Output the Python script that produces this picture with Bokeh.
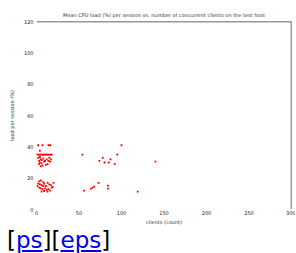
from bokeh.plotting import figure
from bokeh.models import Span, Div, Range1d, FixedTicker
from bokeh.layouts import column
from bokeh.embed import file_html
from bokeh.resources import INLINE

x_ticks = [0, 50, 100, 150, 200, 250, 300]
y_ticks = [0, 20, 40, 60, 80, 100, 120]

# upper cluster
x_upper = [2, 7, 14, 16, 4,
           0, 1.5, 3, 4.5, 6, 7.5, 9, 10.5, 12, 13.5, 15, 16.5, 18,
           2, 4, 5, 3, 6, 8, 9, 4, 6, 10, 12, 14, 16, 13, 7, 3, 11, 15, 17, 5,
           54, 100, 95, 78, 74, 87, 80, 85, 92, 140]
y_upper = [41, 41, 41, 41, 37.5,
           35, 35, 35, 35, 35, 35, 35, 35, 35, 35, 35, 35, 35,
           33, 33.5, 32, 31, 31.5, 32.5, 30.5, 30, 29.5, 31, 32, 31, 30.5, 29, 28, 29, 28.5, 33, 32, 27.5,
           35, 41, 35, 33, 31, 32, 30, 30, 29, 30.5]
# lower cluster
x_lower = [3, 5, 8, 2, 4, 6, 9, 11, 13, 15, 17, 19, 3, 5, 7, 10, 12, 14, 16, 18, 6, 9, 1, 20, 13, 8,
           73, 68, 66, 64, 56, 84, 84, 119]
y_lower = [18, 18.5, 17.5, 16.5, 16, 15.5, 16.5, 15, 17, 16, 15.5, 14.5, 14, 13.5, 13, 13.5, 12.5, 13, 12, 14, 11.5, 11.8, 15, 17, 11.5, 15,
           17, 14.6, 14, 13.3, 12, 15.2, 13.3, 11.4]

p = figure(frame_width=255, frame_height=188, output_backend="svg", toolbar_location=None,
           x_range=Range1d(0, 300), y_range=Range1d(0, 120),
           min_border_left=36, min_border_right=4, min_border_top=21, min_border_bottom=14,
           title="Mean CPU load (%) per session vs. number of concurrent clients on the test host")
p.title.text_font_size = "5px"
p.title.text_font = "DejaVu Sans"
p.title.text_color = "#333333"
p.title.text_font_style = "normal"
p.title.align = "center"
p.title.standoff = 7

p.outline_line_color = None
p.xgrid.grid_line_color = None
p.ygrid.grid_line_color = None
for ax in (p.xaxis, p.yaxis):
    ax.axis_line_color = None
    ax.major_tick_line_color = None
    ax.minor_tick_line_color = None
    ax.major_tick_out = 0
    ax.major_tick_in = 0
    ax.minor_tick_out = 0
    ax.major_label_text_font_size = "5px"
    ax.major_label_text_font = "DejaVu Sans"
    ax.major_label_text_color = "#222222"
    ax.axis_label_text_font_size = "5px"
    ax.axis_label_text_font = "DejaVu Sans"
    ax.axis_label_text_font_style = "normal"
    ax.axis_label_text_color = "#333333"
    ax.major_label_standoff = 1
    ax.axis_label_standoff = 1
p.yaxis.major_label_standoff = 3
p.yaxis.axis_label_standoff = 6
p.xaxis.ticker = FixedTicker(ticks=x_ticks)
p.yaxis.ticker = FixedTicker(ticks=y_ticks)
p.xaxis.axis_label = "clients (count)"
p.yaxis.axis_label = "load per session (%)"

p.scatter(x_upper + x_lower, y_upper + y_lower, marker="square", size=1.8,
          color="red", line_color=None)

p.add_layout(Span(location=120, dimension="width", line_color="#333333", line_width=1.5))
p.add_layout(Span(location=300, dimension="height", line_color="#333333", line_width=1.5))

div = Div(text='[<a href="plot.ps" style="color:#0000ee">ps</a>][<a href="plot.eps" style="color:#0000ee">eps</a>]',
          styles={"font-size": "23px", "font-family": "DejaVu Sans", "line-height": "26px",
                  "padding-left": "3px"},
          width=200, height=30, margin=(0, 0, 0, 4))

layout = column(p, div, spacing=0)
open("out.html", "w").write(file_html(layout, INLINE))
